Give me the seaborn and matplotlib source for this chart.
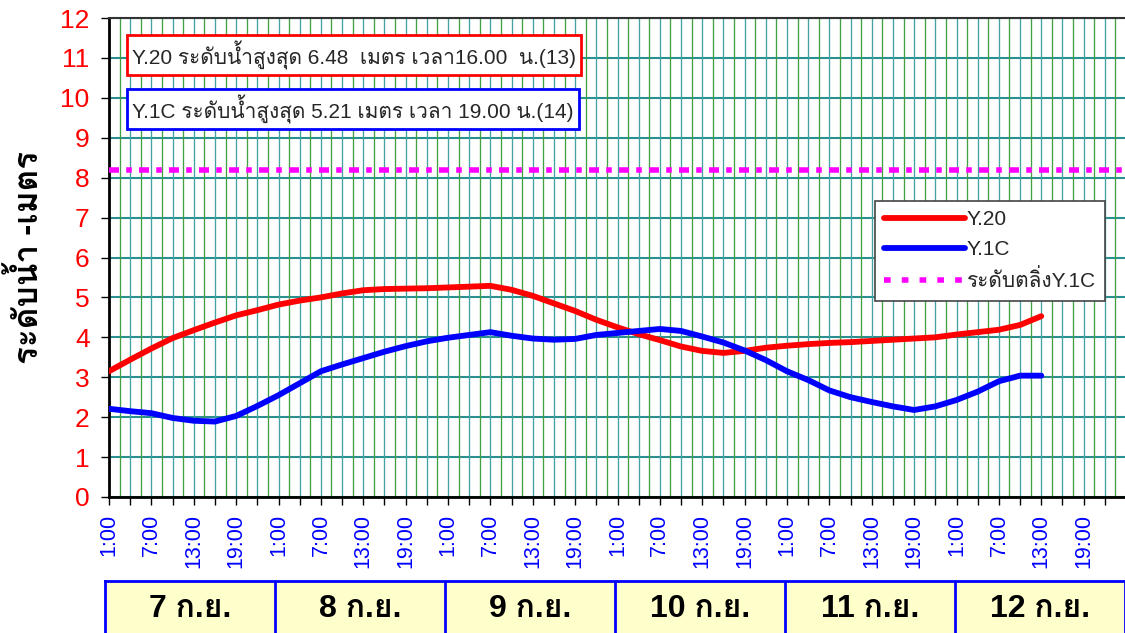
import matplotlib
matplotlib.use("Agg")
import numpy as np
import pandas as pd
import matplotlib.pyplot as plt
import seaborn as sns
from matplotlib.lines import Line2D

# hours counted from 1:00 of 7 Sep, one reading every 3 hours
hours = [0, 3, 6, 9, 12, 15, 18, 21, 24, 27, 30, 33, 36, 39, 42, 45, 48, 51, 54, 57,
         60, 63, 66, 69, 72, 75, 78, 81, 84, 87, 90, 93, 96, 99, 102, 105, 108, 111,
         114, 117, 120, 123, 126, 129, 132]

y20 = [3.15, 3.44, 3.72, 3.98, 4.18, 4.37, 4.55, 4.68, 4.82, 4.92, 5.00, 5.10, 5.18,
       5.21, 5.22, 5.23, 5.25, 5.27, 5.29, 5.19, 5.04, 4.85, 4.66, 4.44, 4.25, 4.08,
       3.93, 3.77, 3.66, 3.61, 3.66, 3.74, 3.79, 3.83, 3.86, 3.88, 3.91, 3.94, 3.97,
       4.00, 4.07, 4.13, 4.19, 4.31, 4.53]

y1c = [2.21, 2.15, 2.10, 1.98, 1.91, 1.89, 2.03, 2.28, 2.55, 2.85, 3.15, 3.32, 3.48,
       3.64, 3.78, 3.90, 3.99, 4.06, 4.13, 4.04, 3.97, 3.94, 3.96, 4.06, 4.11, 4.16,
       4.21, 4.16, 4.02, 3.87, 3.67, 3.43, 3.15, 2.93, 2.67, 2.50, 2.38, 2.27, 2.18,
       2.27, 2.43, 2.64, 2.90, 3.04, 3.04]

bank_y1c = 8.2

day_labels = ["7 ก.ย.", "8 ก.ย.", "9 ก.ย.", "10 ก.ย.", "11 ก.ย.", "12 ก.ย."]
hour_labels = ["1:00", "7:00", "13:00", "19:00"]

note_y20 = "Y.20 ระดับน้ำสูงสุด 6.48  เมตร เวลา16.00  น.(13)"
note_y1c = "Y.1C ระดับน้ำสูงสุด 5.21 เมตร เวลา 19.00 น.(14)"

sns.set_style("white")
plt.rcParams["font.family"] = ["Liberation Sans", "Loma", "Noto Sans Thai Looped"]

df = pd.DataFrame({
    "hour": hours + hours,
    "level": y20 + y1c,
    "station": ["Y.20"] * len(hours) + ["Y.1C"] * len(hours),
})

fig = plt.figure(figsize=(11.25, 6.33), dpi=100)
ax = fig.add_axes([109 / 1125, 136 / 633, 1017 / 1125, 479 / 633])

sns.lineplot(data=df, x="hour", y="level", hue="station",
             palette={"Y.20": "#ff0000", "Y.1C": "#0000ff"},
             linewidth=4.2, legend=False, ax=ax, zorder=5)

ax.axhline(bank_y1c, color="#ff00ff", lw=4.0, dashes=(1.8, 1.3, 1.0, 1.3), zorder=4)

# vertical grid every 1.5 h, alternating green / teal like the Excel chart
n_days = len(day_labels)
for i, gx in enumerate(np.arange(0, 24 * n_days + 0.1, 1.5)):
    ax.axvline(gx, color="#44a044" if i % 2 else "#44a2a2", lw=0.95, zorder=1)
ax.yaxis.grid(True, color="#2a8f8f", lw=1.5, zorder=1)

ax.set_xlim(0, 24 * n_days)
ax.set_ylim(0, 12)
ax.set_yticks(range(0, 13))
ax.tick_params(axis="y", colors="black", labelcolor="#ff0000", labelsize=19,
               direction="out", length=6, width=1, pad=8, left=True)

major = np.arange(0, 24 * n_days, 6)
ax.set_xticks(major)
ax.set_xticklabels(hour_labels * n_days, rotation=90, va="top")
ax.set_xticks(np.arange(3, 24 * n_days, 6), minor=True)
ax.tick_params(axis="x", which="both", colors="black", labelcolor="#0000ff",
               labelsize=15.5, direction="out", length=6, width=1, pad=6, bottom=True)
ax.set_xlabel("")

ax.set_ylabel("ระดับน้ำ -เมตร", fontsize=24, fontweight="bold", color="black")
ax.yaxis.set_label_coords(-64 / 1017, 0.5)

for side in ["left", "bottom"]:
    ax.spines[side].set_color("black")
    ax.spines[side].set_linewidth(2)
ax.spines["top"].set_color("#333333")
ax.spines["top"].set_linewidth(1.5)
ax.spines["right"].set_color("#333333")

handles = [Line2D([], [], color="#ff0000", lw=4.2),
           Line2D([], [], color="#0000ff", lw=4.2),
           Line2D([], [], color="#ff00ff", lw=4.0, dashes=(1.2, 2.0))]
leg = ax.legend(handles, ["Y.20", "Y.1C", "ระดับตลิ่งY.1C"],
                loc="upper right", bbox_to_anchor=(996 / 1017, 296 / 479),
                fontsize=15, handlelength=3.9, handletextpad=0.05,
                labelspacing=0.5, borderaxespad=0, fancybox=False,
                framealpha=1, edgecolor="#444444", borderpad=0.45)
leg.get_frame().set_linewidth(1.2)
leg.set_zorder(10)

fig.text(132 / 1125, 1 - 55 / 633, note_y20, fontsize=15, va="center", ha="left",
         bbox=dict(boxstyle="square,pad=0.25", fc="white", ec="#ff0000", lw=2), zorder=10)
fig.text(132 / 1125, 1 - 109 / 633, note_y1c, fontsize=15, va="center", ha="left",
         bbox=dict(boxstyle="square,pad=0.25", fc="white", ec="#0000ff", lw=2), zorder=10)

# day boxes under the time axis
dax = fig.add_axes([105 / 1125, -0.03, 1020 / 1125, 52 / 633 + 0.03])
dax.set_facecolor("#ffffcc")
dax.set_xlim(0, n_days)
dax.set_ylim(0, 1)
for side in dax.spines.values():
    side.set_color("#0000ff")
    side.set_linewidth(2)
for i in range(1, n_days):
    dax.axvline(i, color="#0000ff", lw=2)
for i, lab in enumerate(day_labels):
    dax.text(i + 0.5, 0.6, lab, ha="center", va="center", fontsize=23,
             fontweight="bold", color="black")
dax.set_xticks([])
dax.set_yticks([])

fig.savefig("out.png", dpi=100)
